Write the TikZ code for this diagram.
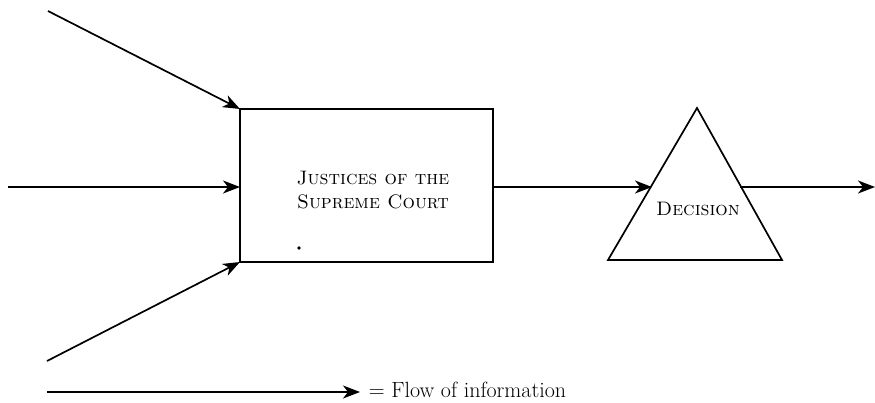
\documentclass[tikz,border=0pt]{standalone}
\usetikzlibrary{arrows.meta,calc}
\begin{document}
\begin{tikzpicture}[x=1pt,y=-1pt,
  line width=1.7pt,
  flow/.style={-{Stealth[length=17pt,width=13pt,inset=5pt]}},
  lbl/.style={font=\fontsize{19.5}{23}\selectfont\scshape,align=center,inner sep=0pt}]
  \useasboundingbox (0,0) rectangle (875,402);

  % central box
  \draw (240,109) rectangle (493,262);
  \coordinate (boxNW) at (240,109);
  \coordinate (boxW)  at (240,187);
  \coordinate (boxSW) at (240,262);
  \coordinate (boxE)  at (493,187);
  \node[lbl] (justices) at (373,190) {Justices of the\\[1pt]Supreme Court};
  \fill (299,248) circle (1.8pt);

  % decision triangle
  \draw (697,108) -- (782,260) -- (608,260) -- cycle;
  \coordinate (triW) at (652,187);
  \coordinate (triE) at (740,187);
  \node[lbl] (decision) at (698,209) {Decision};

  % incoming information
  \coordinate (inA) at (48,11);
  \coordinate (inB) at (8,187);
  \coordinate (inC) at (47,361);
  \draw[flow] (inA) -- (boxNW);
  \draw[flow] (inB) -- (boxW);
  \draw[flow] (inC) -- (boxSW);

  % box to decision and onward
  \coordinate (out) at (875,187);
  \draw[flow] (boxE) -- (triW);
  \draw[flow] (triE) -- (out);

  % legend
  \coordinate (legA) at (47,392);
  \coordinate (legB) at (360,392);
  \draw[flow] (legA) -- (legB);
  \node[anchor=west,inner sep=0pt,font=\fontsize{22}{26}\selectfont] (legtext) at (368,390) {= Flow of information};
\end{tikzpicture}
\end{document}
